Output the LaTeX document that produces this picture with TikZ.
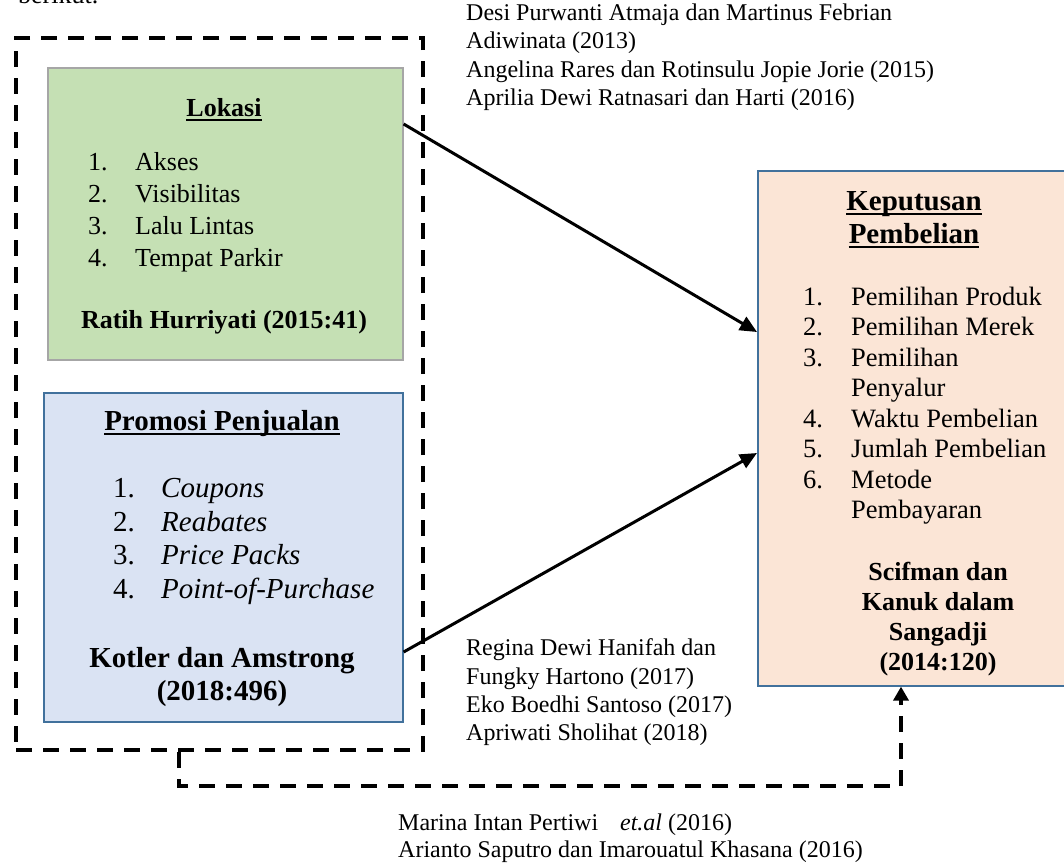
\documentclass[tikz,border=0pt]{standalone}
\usepackage{fontspec}
\setmainfont{Liberation Serif}
\usetikzlibrary{arrows.meta}
\definecolor{greenfill}{HTML}{C5E0B4}
\definecolor{greenline}{HTML}{A6A6A6}
\definecolor{bluefill}{HTML}{DAE3F3}
\definecolor{boxline}{HTML}{41719C}
\definecolor{peachfill}{HTML}{FBE5D6}
\begin{document}
\begin{tikzpicture}[x=1pt,y=-1pt,
  box/.style={draw=boxline, line width=1.6pt, inner sep=0pt, anchor=north west},
  dashbox/.style={draw=black, line width=4pt, dash pattern=on 16pt off 11pt, inner sep=0pt, anchor=north west},
  t/.style={inner sep=0pt, anchor=base west, font=\fontsize{26}{30}\selectfont},
  tc/.style={t, anchor=base},
  tp/.style={t, font=\fontsize{29}{33}\selectfont},
  tpc/.style={tp, anchor=base},
  tk/.style={t, font=\fontsize{26.5}{30}\selectfont},
  ts/.style={t, font=\fontsize{24}{28}\selectfont},
  conn/.style={line width=3pt, -{Triangle[length=17pt,width=15pt]}},
  dconn/.style={line width=4pt, dash pattern=on 16pt off 11pt, -{Triangle[length=14pt,width=15pt]}},
  ul/.style={line width=2pt}
]
\clip (0,0) rectangle (1064,865);

% fragment of the text above
\node[t] (frag) at (18,3.5) {berikut.};

% boxes
\node[box, fill=greenfill, draw=greenline, minimum width=355pt, minimum height=292pt] (lok) at (47,67) {};
\node[box, fill=bluefill, minimum width=359pt, minimum height=329pt] (pro) at (43,392) {};
\node[box, fill=peachfill, minimum width=312pt, minimum height=515pt] (kep) at (757,170) {};
\node[dashbox, minimum width=407pt, minimum height=712pt] (outer) at (14,36) {};

% Lokasi
\node[tc] (lokt) at (224,116) {\textbf{Lokasi}};
\draw[ul] ([yshift=-4pt]lokt.base west) -- ([yshift=-4pt]lokt.base east);
\node[t] (ln1) at (88,170) {1.};  \node[t] (li1) at (135,170) {Akses};
\node[t] (ln2) at (88,202) {2.};  \node[t] (li2) at (135,202) {Visibilitas};
\node[t] (ln3) at (88,234) {3.};  \node[t] (li3) at (135,234) {Lalu Lintas};
\node[t] (ln4) at (88,266) {4.};  \node[t] (li4) at (135,266) {Tempat Parkir};
\node[tc] (lsrc) at (224,328) {\textbf{Ratih Hurriyati (2015:41)}};

% Promosi
\node[tpc] (prot) at (222,430) {\textbf{Promosi Penjualan}};
\draw[ul] ([yshift=-4pt]prot.base west) -- ([yshift=-4pt]prot.base east);
\node[tp] (pn1) at (113,497) {1.};  \node[tp] (pi1) at (161,497) {\textit{Coupons}};
\node[tp] (pn2) at (113,531) {2.};  \node[tp] (pi2) at (161,531) {\textit{Reabates}};
\node[tp] (pn3) at (113,564) {3.};  \node[tp] (pi3) at (161,564) {\textit{Price Packs}};
\node[tp] (pn4) at (113,598) {4.};  \node[tp] (pi4) at (161,598) {\textit{Point-of-Purchase}};
\node[tpc] (psrc1) at (222,667) {\textbf{Kotler dan Amstrong}};
\node[tpc] (psrc2) at (222,700) {\textbf{(2018:496)}};

% Keputusan
\node[tpc] (kept1) at (914,210) {\textbf{Keputusan}};
\draw[ul] ([yshift=-4pt]kept1.base west) -- ([yshift=-4pt]kept1.base east);
\node[tpc] (kept2) at (914,243) {\textbf{Pembelian}};
\draw[ul] ([yshift=-4pt]kept2.base west) -- ([yshift=-4pt]kept2.base east);
\node[tk] (kn1) at (803,305) {1.};  \node[tk] (ki1) at (851,305) {Pemilihan Produk};
\node[tk] (kn2) at (803,335.5) {2.};  \node[tk] (ki2) at (851,335.5) {Pemilihan Merek};
\node[tk] (kn3) at (803,366) {3.};  \node[tk] (ki3) at (851,366) {Pemilihan};
\node[tk] (ki3b) at (851,396.5) {Penyalur};
\node[tk] (kn4) at (803,427) {4.};  \node[tk] (ki4) at (851,427) {Waktu Pembelian};
\node[tk] (kn5) at (803,457.5) {5.};  \node[tk] (ki5) at (851,457.5) {Jumlah Pembelian};
\node[tk] (kn6) at (803,488) {6.};  \node[tk] (ki6) at (851,488) {Metode};
\node[tk] (ki6b) at (851,518.5) {Pembayaran};
\node[tc] (ks1) at (938,580) {\textbf{Scifman dan}};
\node[tc] (ks2) at (938,610) {\textbf{Kanuk dalam}};
\node[tc] (ks3) at (938,640) {\textbf{Sangadji}};
\node[tc] (ks4) at (938,670) {\textbf{(2014:120)}};

% citations
\node[ts] (c1) at (466,20) {Desi Purwanti Atmaja dan Martinus Febrian};
\node[ts] (c2) at (466,48.5) {Adiwinata (2013)};
\node[ts] (c3) at (466,77) {Angelina Rares dan Rotinsulu Jopie Jorie (2015)};
\node[ts] (c4) at (466,105.5) {Aprilia Dewi Ratnasari dan Harti (2016)};

\node[ts] (d1) at (466,655) {Regina Dewi Hanifah dan};
\node[ts] (d2) at (466,684) {Fungky Hartono (2017)};
\node[ts] (d3) at (466,712) {Eko Boedhi Santoso (2017)};
\node[ts] (d4) at (466,740) {Apriwati Sholihat (2018)};

\node[ts] (e1) at (398,830) {Marina Intan Pertiwi\hspace*{22pt}\textit{et.al} (2016)};
\node[ts] (e2) at (398,857) {Arianto Saputro dan Imarouatul Khasana (2016)};

% connectors
\draw[conn] ([yshift=-57pt]lok.north east) -- ([yshift=-162pt]kep.north west);
\draw[conn] ([yshift=-260pt]pro.north east) -- ([yshift=-283pt]kep.north west);
\draw[dconn] ([xshift=165pt]outer.south west) -- ++(0,34) -| ([xshift=144pt]kep.south west);
\end{tikzpicture}
\end{document}
